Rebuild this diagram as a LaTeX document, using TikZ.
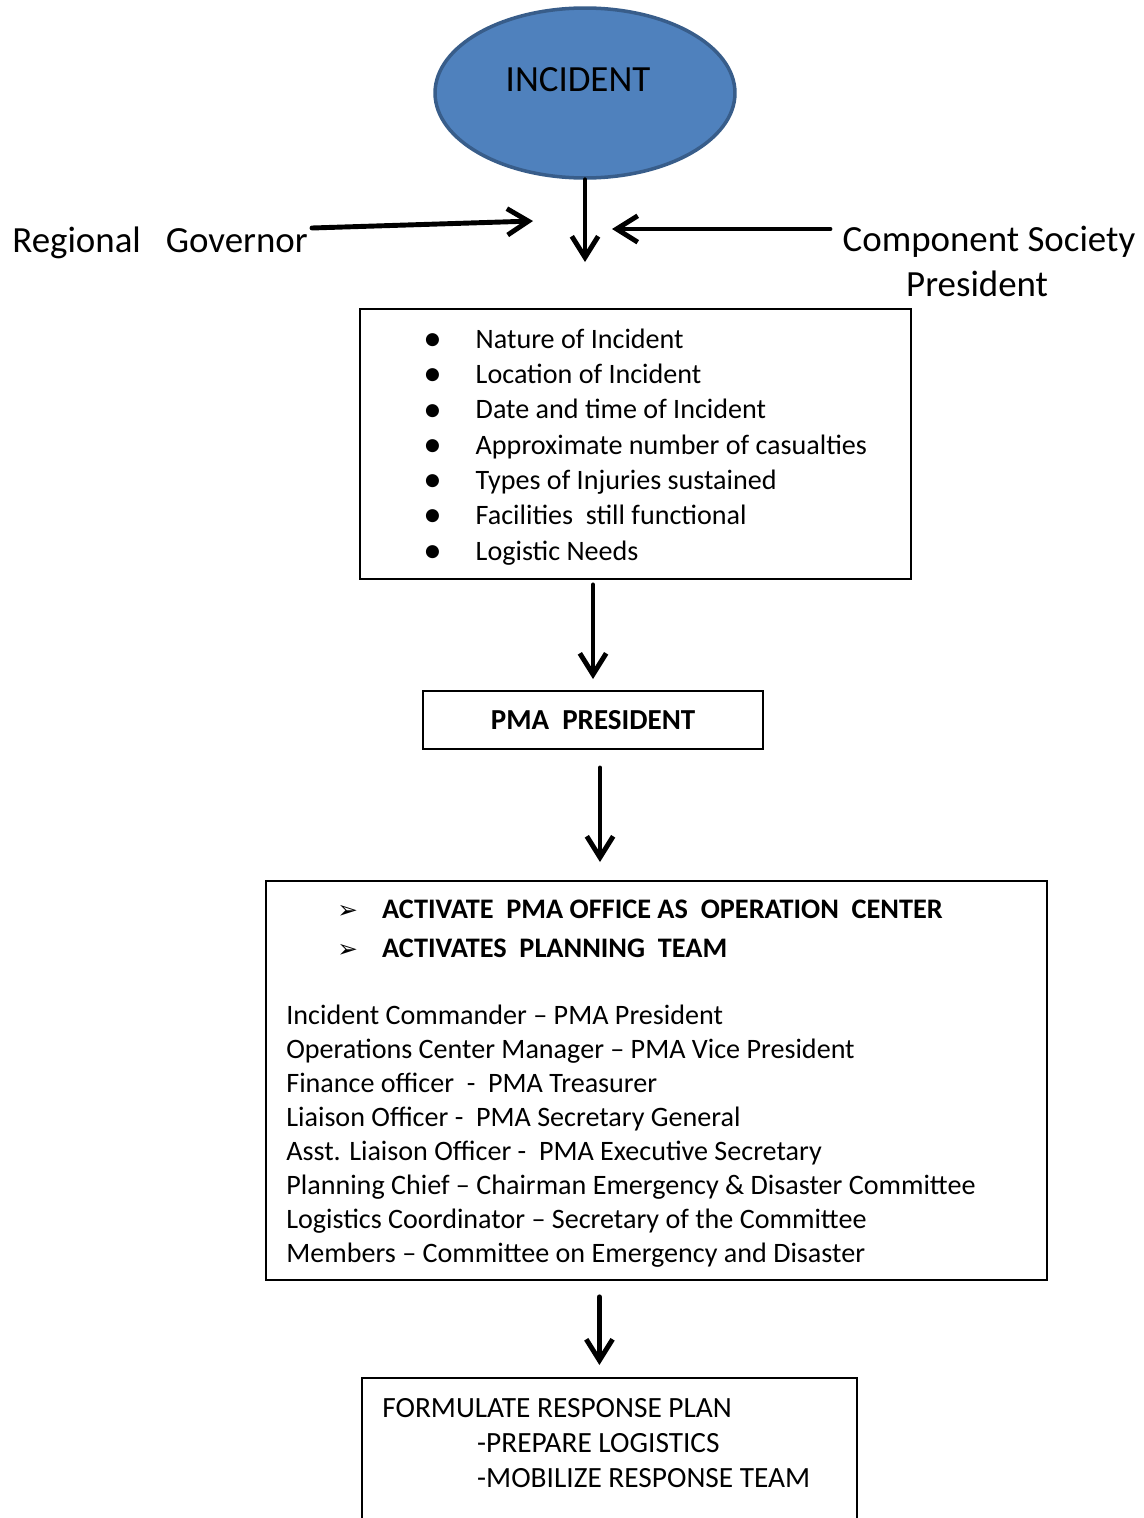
\documentclass[tikz,border=0pt]{standalone}
\usepackage{fontspec}
\setmainfont{Carlito}
\newfontfamily\dingfont{DejaVu Sans}
\usetikzlibrary{shapes.geometric, arrows.meta, positioning, calc}
\definecolor{incblue}{RGB}{79, 129, 189}
\definecolor{incedge}{RGB}{56, 93, 138}

\newcommand{\bulletitem}{\makebox[29.8pt][l]{\raisebox{-1.3pt}{\fontsize{21}{21}\selectfont\textbullet}}}
\newcommand{\arrowitem}{\makebox[25.5pt][l]{\dingfont\fontsize{14}{14}\selectfont ➢}}

\tikzset{
  flowbox/.style={draw, line width=1.1pt, rectangle, inner sep=0pt},
  flowarrow/.style={line width=2.8pt, line cap=round, -{Straight Barb[length=12pt, width=15pt]}},
  listtext/.style={anchor=base west, align=left, inner sep=0pt, font=\fontsize{16}{20.1}\selectfont},
  bigtext/.style={inner sep=0pt, font=\fontsize{21}{25.5}\selectfont}
}

\begin{document}
\begin{tikzpicture}[x=0.02cm, y=-0.02cm]
  \useasboundingbox (0,0) rectangle (1143,1518);

  % incident and the two side reports
  \node[ellipse, draw=incedge, line width=2pt, fill=incblue, minimum width=6cm, minimum height=3.4cm,
        label={[font=\fontsize{21}{24}\selectfont, xshift=-0.14cm, yshift=0.26cm]center:INCIDENT}] (incident) at (585,93) {};
  \coordinate (meet) at (585,262);
  \draw[flowarrow] (incident.south) -- (meet);

  \node[bigtext, anchor=base west] (governor) at (12,252) {Regional\ \ \ Governor};
  \coordinate (govtail) at (312,228);
  \coordinate (govtip) at (533,221);
  \draw[flowarrow] (govtail) -- (govtip);

  \node[bigtext, anchor=north, align=center] (society) at (989,226) {Component Society\\President\hspace*{13.5pt}};
  \coordinate (soctail) at (830,229);
  \coordinate (soctip) at (612,229);
  \draw[flowarrow] (soctail) -- (soctip);

  % report contents (base anchor sits on the last line)
  \node[flowbox, anchor=north west, minimum width=11.02cm, minimum height=5.4cm] (needs) at (359,308) {};
  \node[listtext] (needlist) at (423,560) {
    \bulletitem Nature of Incident\\
    \bulletitem Location of Incident\\
    \bulletitem Date and time of Incident\\
    \bulletitem Approximate number of casualties\\
    \bulletitem Types of Injuries sustained\\
    \bulletitem Facilities\ \ still functional\\
    \bulletitem Logistic Needs};

  \node[flowbox, minimum width=6.8cm, minimum height=1.16cm, font=\bfseries\fontsize{16.5}{20}\selectfont] (pma) at (593,720) {PMA\ \ PRESIDENT};
  \draw[flowarrow, shorten <=0.1cm, shorten >=0.22cm] (needs.south -| pma.north) -- (pma.north);

  % planning team
  \node[flowbox, anchor=north west, minimum width=15.62cm, minimum height=7.98cm] (team) at (265,880) {};
  \draw[flowarrow] ($(pma.south)+(7,18)$) -- ($(pma.south |- team.north)+(7,-18)$);
  \node[listtext, font=\bfseries\fontsize{16.1}{22}\selectfont] (actions) at (337,957) {
    \arrowitem ACTIVATE\ \ PMA OFFICE AS\ \ OPERATION\ \ CENTER\\
    \arrowitem ACTIVATES\ \ PLANNING\ \ TEAM};
  \node[listtext, font=\fontsize{16}{19.3}\selectfont] (roles) at (286,1262) {
    Incident Commander – PMA President\\
    Operations Center Manager – PMA Vice President\\
    Finance officer\ \ -\ \ PMA Treasurer\\
    Liaison Officer -\ \ PMA Secretary General\\
    Asst. Liaison Officer -\ \ PMA Executive Secretary\\
    Planning Chief – Chairman Emergency \& Disaster Committee\\
    Logistics Coordinator – Secretary of the Committee\\
    Members – Committee on Emergency and Disaster};

  % response plan
  \node[flowbox, anchor=north west, minimum width=9.9cm, minimum height=3.3cm] (plan) at (361,1377) {};
  \draw[flowarrow] ($(team.south -| plan.north)+(-10,16)$) -- ($(plan.north)+(-10,-12)$);
  \node[listtext, font=\fontsize{16.7}{19.8}\selectfont] (plantext) at (382,1487) {
    FORMULATE RESPONSE PLAN\\
    \hspace*{54pt}-PREPARE LOGISTICS\\
    \hspace*{54pt}-MOBILIZE RESPONSE TEAM};
\end{tikzpicture}
\end{document}
